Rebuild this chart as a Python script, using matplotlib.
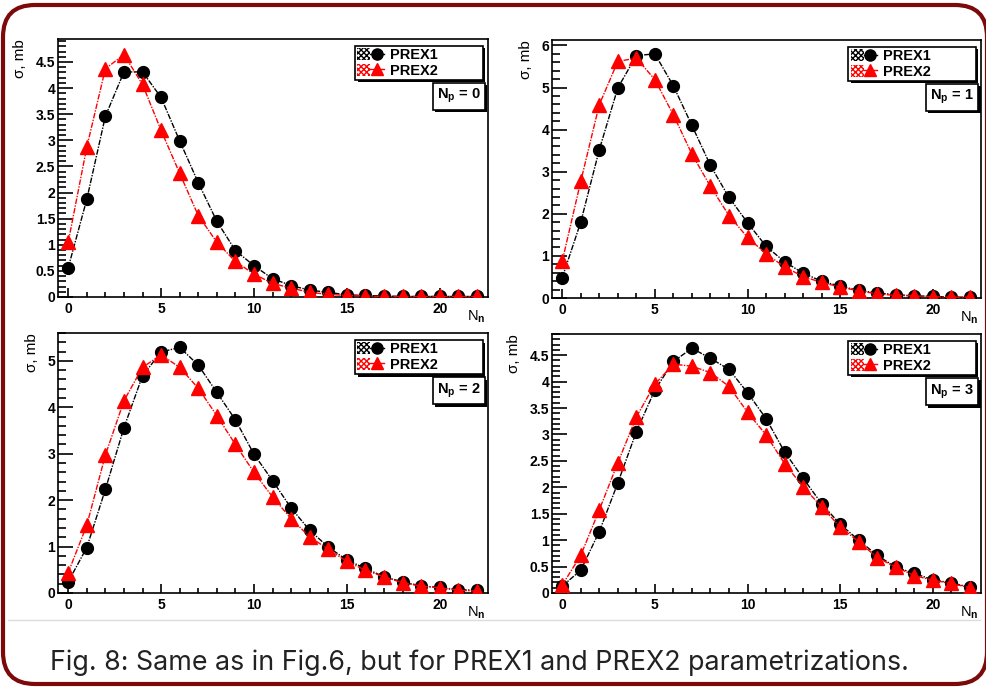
import numpy as np
import matplotlib
matplotlib.use('Agg')
from matplotlib import pyplot as plt
from matplotlib import ticker, patheffects
from matplotlib.patches import FancyBboxPatch, Patch
from matplotlib.lines import Line2D
from matplotlib.legend_handler import HandlerTuple
from matplotlib.transforms import IdentityTransform

plt.rcParams['font.family'] = 'Liberation Sans'
plt.rcParams['font.weight'] = 'bold'
plt.rcParams['mathtext.fontset'] = 'custom'
plt.rcParams['mathtext.bf'] = 'Liberation Sans:bold'
plt.rcParams['mathtext.rm'] = 'Liberation Sans:bold'
plt.rcParams['mathtext.default'] = 'bf'
plt.rcParams['hatch.linewidth'] = 1.0

## cross sections (mb) vs number of emitted neutrons, one list per N_p
n_neutrons = np.arange(23)
n_protons = [0, 1, 2, 3]

prex1_np0 = [0.56, 1.87, 3.46, 4.31, 4.31, 3.82, 2.99, 2.19, 1.45, 0.89, 0.60,
             0.35, 0.22, 0.13, 0.09, 0.04, 0.03, 0.02, 0.01, 0.01, 0.01, 0.01, 0.01]
prex2_np0 = [1.05, 2.87, 4.37, 4.64, 4.07, 3.19, 2.37, 1.56, 1.05, 0.68, 0.44,
             0.26, 0.17, 0.09, 0.05, 0.03, 0.02, 0.01, 0.01, 0.01, 0.01, 0.01, 0.01]

prex1_np1 = [0.48, 1.80, 3.52, 4.99, 5.76, 5.80, 5.04, 4.10, 3.15, 2.39, 1.79,
             1.23, 0.86, 0.59, 0.40, 0.28, 0.18, 0.12, 0.08, 0.05, 0.04, 0.02, 0.02]
prex2_np1 = [0.87, 2.77, 4.59, 5.62, 5.70, 5.19, 4.35, 3.42, 2.65, 1.96, 1.44,
             1.05, 0.74, 0.51, 0.37, 0.26, 0.17, 0.10, 0.06, 0.05, 0.03, 0.02, 0.02]

prex1_np2 = [0.24, 0.98, 2.23, 3.56, 4.68, 5.19, 5.29, 4.91, 4.32, 3.73, 2.99,
             2.42, 1.83, 1.35, 0.99, 0.71, 0.53, 0.35, 0.24, 0.15, 0.12, 0.07, 0.06]
prex2_np2 = [0.44, 1.46, 2.97, 4.14, 4.86, 5.13, 4.86, 4.41, 3.82, 3.20, 2.60,
             2.07, 1.60, 1.21, 0.94, 0.68, 0.49, 0.35, 0.22, 0.15, 0.11, 0.06, 0.04]

prex1_np3 = [0.13, 0.43, 1.16, 2.08, 3.05, 3.84, 4.38, 4.63, 4.44, 4.23, 3.79,
             3.30, 2.67, 2.17, 1.69, 1.30, 1.00, 0.71, 0.49, 0.37, 0.25, 0.19, 0.11]
prex2_np3 = [0.15, 0.71, 1.57, 2.46, 3.33, 3.95, 4.33, 4.29, 4.17, 3.91, 3.42,
             2.99, 2.45, 2.01, 1.63, 1.25, 0.97, 0.67, 0.49, 0.33, 0.24, 0.18, 0.10]

prex1 = [prex1_np0, prex1_np1, prex1_np2, prex1_np3]
prex2 = [prex2_np0, prex2_np1, prex2_np2, prex2_np3]

## plot layout (pixels: left, top, right, bottom), y ranges and tick steps
W, H = 986, 687
boxes = [(58, 39, 488, 297), (552, 40, 981, 298),
         (58, 333, 488, 593), (552, 334, 981, 593)]
ytops = [4.94, 6.13, 5.60, 4.90]
ymajor = [0.5, 1.0, 1.0, 0.5]
yminor = [0.1, 0.2, 0.2, 0.1]

shadow = [patheffects.SimplePatchShadow(offset=(1.8, -1.8),
                                        shadow_rgbFace='black', alpha=1),
          patheffects.Normal()]

fig = plt.figure(figsize=(W/100, H/100), dpi=100)
fig.patch.set_facecolor('white')

for i, (l, t, r, b) in enumerate(boxes):
    ax = fig.add_axes([l/W, 1 - b/H, (r - l)/W, (b - t)/H])

    ax.plot(n_neutrons, prex1[i], color='black', marker='o', ms=8.5,
            lw=1, ls=(0, (4, 1, 1, 1)), zorder=3)
    ax.plot(n_neutrons, prex2[i], color='red', marker='^', ms=9.5,
            lw=1, ls=(0, (4, 1, 1, 1)), zorder=4)

    ax.set_xlim(-0.55, 22.6)
    ax.set_ylim(0, ytops[i])

    ## ROOT-like axes: inward ticks on bottom and left only
    ax.xaxis.set_major_locator(ticker.MultipleLocator(5))
    ax.xaxis.set_minor_locator(ticker.MultipleLocator(1))
    ax.yaxis.set_major_locator(ticker.MultipleLocator(ymajor[i]))
    ax.yaxis.set_minor_locator(ticker.MultipleLocator(yminor[i]))
    fmt = ticker.FuncFormatter(lambda v, pos: '{0:g}'.format(round(v, 3)))
    ax.yaxis.set_major_formatter(fmt)
    ax.xaxis.set_major_formatter(fmt)
    ax.tick_params(which='both', direction='in', top=False, right=False,
                   width=1.2, labelsize=10)
    ax.tick_params(axis='y', which='major', length=11, pad=2)
    ax.tick_params(axis='y', which='minor', length=5.5)
    ax.tick_params(axis='x', which='major', length=6.5, pad=3.5)
    ax.tick_params(axis='x', which='minor', length=3.5)
    for lbl in ax.get_xticklabels() + ax.get_yticklabels():
        lbl.set_fontweight('bold')
    for s in ax.spines.values():
        s.set_linewidth(1.2)

    ax.set_ylabel('σ, mb', loc='top', fontsize=11, labelpad=6)
    ax.set_xlabel('N$_n$', loc='right', fontsize=10.5)
    ax.xaxis.set_label_coords(0.995, -0.045)

    ## legend: textured fill box with marker on top
    h1 = (Patch(facecolor='white', edgecolor='black', hatch='xxxxxx', lw=0),
          Line2D([], [], color='black', marker='o', ms=8, lw=1))
    h2 = (Patch(facecolor='white', edgecolor='red', hatch='xxxxxx', lw=0),
          Line2D([], [], color='red', marker='^', ms=8, lw=1))
    leg = ax.legend([h1, h2], ['PREX1', 'PREX2'],
                    handler_map={tuple: HandlerTuple(ndivide=None, pad=0)},
                    loc='upper left', bbox_to_anchor=(0.691, 0.837, 0.297, 0.136),
                    mode='expand', borderaxespad=0, fancybox=False,
                    edgecolor='black', framealpha=1, handlelength=1.8,
                    handleheight=0.9, labelspacing=0.1, borderpad=0.15,
                    handletextpad=0.45, prop=dict(weight='bold', size=10.5))
    leg.get_frame().set_linewidth(1.2)
    leg.get_frame().set_path_effects(shadow)

    txt = ax.text(0.932, 0.778, 'N$_p$ = {}'.format(n_protons[i]),
                  transform=ax.transAxes, ha='center', va='center', fontsize=10.5,
                  bbox=dict(boxstyle='square,pad=0.3', fc='white', ec='black', lw=1.2))
    txt.get_bbox_patch().set_path_effects(shadow)

## rounded frame, separator and caption
frame = FancyBboxPatch((3, 3), 984, 679,
                       boxstyle='round,pad=0,rounding_size=32',
                       transform=IdentityTransform(), fill=False,
                       edgecolor='#7d0a0a', linewidth=3)
fig.add_artist(frame)
fig.add_artist(Line2D([8/W, 980/W], [1 - 620/H, 1 - 620/H],
                      transform=fig.transFigure, color='#dcdcdc', lw=1))
fig.text(50/W, (H - 670)/H,
         'Fig. 8: Same as in Fig.6, but for PREX1 and PREX2 parametrizations.',
         family='Inter', weight='normal', size=19.3, color='#222222',
         va='baseline', ha='left')

fig.savefig('out.png', dpi=100)
